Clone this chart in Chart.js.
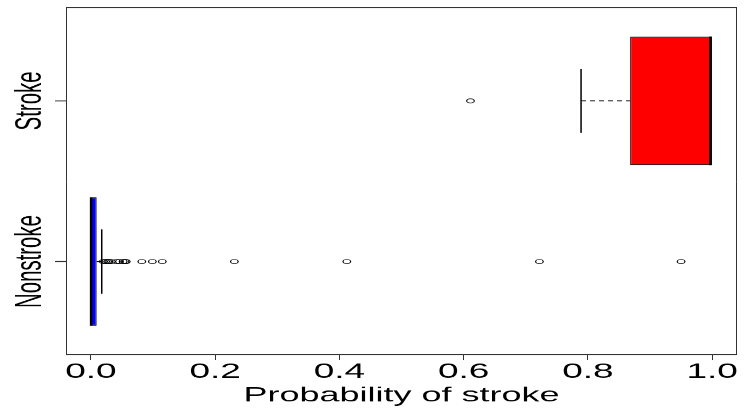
<!DOCTYPE html>
<html>
<head>
<meta charset="utf-8">
<script src="https://cdn.jsdelivr.net/npm/chart.js@4.4.1/dist/chart.umd.min.js"></script>
<style>
html, body { margin: 0; padding: 0; background: #fff; overflow: hidden; }
/* la figura original esta achatada en vertical */
#grafica { transform: scaleY(0.5499); transform-origin: 0 0; }
</style>
</head>
<body>
<canvas id="grafica" width="744" height="742"></canvas>
<script>
// Grupos y su posicion en el eje y
const grupos = ["Nonstroke", "Stroke"];
const posiciones = [1, 2];
const colores = ["#0000ff", "#ff0000"];

// Estadisticos de cada caja
const bigoteInf = [0.0, 0.789];
const q1 = [0.0003, 0.868];
const mediana = [0.0005, 0.9974];
const q3 = [0.0094, 0.9995];
const bigoteSup = [0.0175, 0.9995];

// Valores atipicos
const atipicosNonstroke = [0.020, 0.024, 0.027, 0.029, 0.033, 0.041, 0.046, 0.052, 0.055,
    0.057, 0.082, 0.099, 0.115, 0.231, 0.412, 0.722, 0.950];
const atipicosStroke = [0.611];

const ticksX = [0, 0.2, 0.4, 0.6, 0.8, 1.0];

const mediaCaja = 0.4;   // mitad del ancho de la caja
const mediaTope = 0.2;   // mitad del tope del bigote
const fuente = '"Liberation Sans", Arial, sans-serif';

// Segmentos: bigotes, topes y medianas
const datasets = [];
function segmento(puntos, ancho, guiones) {
    datasets.push({
        type: 'line',
        data: puntos,
        borderColor: '#000',
        borderWidth: ancho,
        borderDash: guiones || [],
        pointRadius: 0,
        fill: false,
        order: 1
    });
}
posiciones.forEach(function (p, i) {
    // los topes que caen sobre el borde de la caja no se ven
    if (bigoteInf[i] < q1[i] - 0.001) {
        segmento([{ x: bigoteInf[i], y: p }, { x: q1[i], y: p }], 1.8, [5, 4]);
        segmento([{ x: bigoteInf[i], y: p - mediaTope }, { x: bigoteInf[i], y: p + mediaTope }], 1.5);
    }
    if (bigoteSup[i] > q3[i] + 0.001) {
        segmento([{ x: q3[i], y: p }, { x: bigoteSup[i], y: p }], 1.8, [5, 4]);
        segmento([{ x: bigoteSup[i], y: p - mediaTope }, { x: bigoteSup[i], y: p + mediaTope }], 1.5);
    }
    segmento([{ x: mediana[i], y: p - mediaCaja }, { x: mediana[i], y: p + mediaCaja }], 2.6);
});

// Atipicos
datasets.push({
    type: 'scatter',
    data: atipicosNonstroke.map(v => ({ x: v, y: posiciones[0] }))
        .concat(atipicosStroke.map(v => ({ x: v, y: posiciones[1] }))),
    pointStyle: 'circle',
    pointRadius: 3.8,
    pointBorderWidth: 1.2,
    pointBorderColor: '#000',
    pointBackgroundColor: 'rgba(0,0,0,0)',
    order: 0
});

// Cajas (barras flotantes)
datasets.push({
    type: 'bar',
    indexAxis: 'y',
    data: posiciones.map((p, i) => ({ x: [q1[i], q3[i]], y: p })),
    backgroundColor: colores,
    borderColor: '#000',
    borderWidth: { left: 1, right: 1, top: 1.8, bottom: 1.8 },
    borderSkipped: false,
    categoryPercentage: 1,
    barPercentage: 2 * mediaCaja,
    order: 2
});

// Marco del grafico y etiquetas de los grupos
const marco = {
    id: 'marco',
    afterDraw(chart) {
        const { ctx, chartArea: a, scales } = chart;
        ctx.save();
        ctx.strokeStyle = '#333';
        ctx.lineWidth = 1.8;
        ctx.beginPath();
        ctx.moveTo(a.left, a.top); ctx.lineTo(a.right, a.top);
        ctx.moveTo(a.left, a.bottom); ctx.lineTo(a.right, a.bottom);
        ctx.stroke();
        ctx.lineWidth = 1;
        ctx.beginPath();
        ctx.moveTo(a.left + 0.5, a.top); ctx.lineTo(a.left + 0.5, a.bottom);
        ctx.moveTo(a.right - 0.5, a.top); ctx.lineTo(a.right - 0.5, a.bottom);
        ctx.stroke();

        ctx.font = '37px ' + fuente;
        ctx.fillStyle = '#000';
        ctx.textAlign = 'center';
        ctx.textBaseline = 'middle';
        grupos.forEach(function (g, i) {
            const y = scales.y.getPixelForValue(posiciones[i]);
            ctx.save();
            ctx.translate(a.left - 35, y);
            ctx.rotate(-Math.PI / 2);
            ctx.fillText(g, 0, 0);
            ctx.restore();
        });
        ctx.restore();
    }
};

new Chart(document.getElementById('grafica'), {
    type: 'bar',
    data: { datasets: datasets },
    plugins: [marco],
    options: {
        indexAxis: 'y',
        responsive: false,
        animation: false,
        events: [],
        layout: { padding: { top: 14, right: 7, bottom: 0, left: 0 } },
        plugins: { legend: { display: false }, tooltip: { enabled: false } },
        scales: {
            x: {
                type: 'linear',
                min: -0.04,
                max: 1.04,
                offset: false,
                afterBuildTicks: s => { s.ticks = ticksX.map(v => ({ value: v })); },
                afterFit: s => { s.height = 97; },
                grid: { drawOnChartArea: false, offset: false, tickLength: 10, color: '#333', tickWidth: 1 },
                border: { display: false },
                ticks: {
                    callback: v => v.toFixed(1),
                    color: '#000',
                    padding: 3,
                    maxRotation: 0,
                    autoSkip: false,
                    font: { family: fuente, size: 37, lineHeight: 1 }
                },
                title: {
                    display: true,
                    text: 'Probability of stroke',
                    color: '#000',
                    padding: { top: 0, bottom: 4 },
                    font: { family: fuente, size: 36, lineHeight: 1 }
                }
            },
            y: {
                type: 'linear',
                min: 0.42,
                max: 2.58,
                offset: false,
                afterBuildTicks: s => { s.ticks = posiciones.map(v => ({ value: v })); },
                afterFit: s => { s.width = 66; },
                grid: { drawOnChartArea: false, offset: false, tickLength: 11, color: '#333', tickWidth: 1.8 },
                border: { display: false },
                ticks: { display: false }
            }
        }
    }
});
</script>
</body>
</html>
